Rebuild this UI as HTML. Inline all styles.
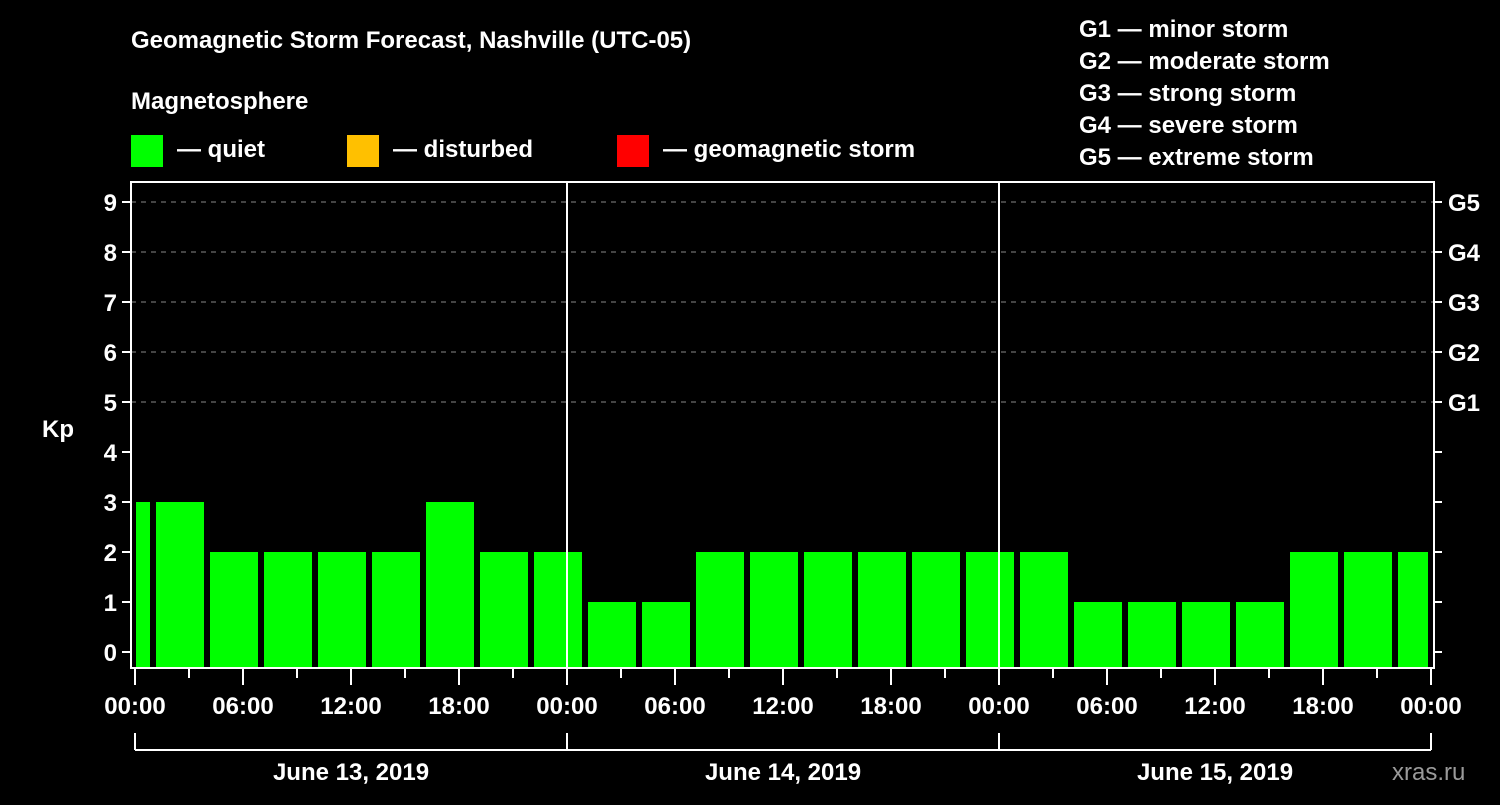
<!DOCTYPE html>
<html><head><meta charset="utf-8"><style>
body{margin:0;background:#000;}
svg text{font-family:"Liberation Sans",Arial,sans-serif;font-weight:bold;fill:#fff;}
</style></head><body>
<svg id="c" width="1500" height="800" xmlns="http://www.w3.org/2000/svg">
<rect width="1500" height="800" fill="#000"/>
<text x="131" y="48" font-size="24">Geomagnetic Storm Forecast, Nashville (UTC-05)</text>
<text x="131" y="109" font-size="24">Magnetosphere</text>
<rect x="131" y="135" width="32" height="32" fill="#00ff00"/>
<text x="177" y="157" font-size="24">— quiet</text>
<rect x="347" y="135" width="32" height="32" fill="#ffc000"/>
<text x="393" y="157" font-size="24">— disturbed</text>
<rect x="617" y="135" width="32" height="32" fill="#ff0000"/>
<text x="663" y="157" font-size="24">— geomagnetic storm</text>
<g font-size="24">
<text x="1079" y="37">G1 — minor storm</text>
<text x="1079" y="69">G2 — moderate storm</text>
<text x="1079" y="101">G3 — strong storm</text>
<text x="1079" y="133">G4 — severe storm</text>
<text x="1079" y="165">G5 — extreme storm</text>
</g>
<text x="42" y="437" font-size="24">Kp</text>
<text x="1392" y="780" font-size="24" fill="#999" style="fill:#9a9a9a;font-weight:normal">xras.ru</text>
<g id="grid"></g><g id="bars"></g><g id="axes"></g>
</svg>
<script>
const values=[3,3,2,2,2,2,3,2,2,1,1,2,2,2,2,2,2,2,1,1,1,1,2,2,2];
const yTicks=[0,1,2,3,4,5,6,7,8,9];
const gLabels=["G1","G2","G3","G4","G5"];
const xLabels=["00:00","06:00","12:00","18:00","00:00","06:00","12:00","18:00","00:00","06:00","12:00","18:00","00:00"];
const dayLabels=["June 13, 2019","June 14, 2019","June 15, 2019"];
const NS="http://www.w3.org/2000/svg";
const X=h=>135+h*18, Y=k=>652-k*50;
const L=131,R=1434,T=182,B=668;
function mk(t,a,p){const e=document.createElementNS(NS,t);for(const k in a)e.setAttribute(k,a[k]);document.getElementById(p).appendChild(e);return e;}
for(let k=5;k<=9;k++){const l=mk('line',{x1:L,x2:R,y1:Y(k),y2:Y(k),stroke:'#888','stroke-dasharray':'5,5'},'grid');

}
values.forEach((v,i)=>{let s=i==0?0:1+(i-1)*3, e=Math.min(72,i==0?1:s+3);
const x0=X(s)+(i==0?1:3), x1=X(e)-3;
const r=mk('rect',{x:x0,y:Y(v),width:x1-x0,height:B-Y(v),fill:v>=5?'#ff0000':(v>=4?'#ffc000':'#00ff00')},'bars');

});
mk('rect',{x:L,y:T,width:R-L,height:B-T,fill:'none',stroke:'#fff','stroke-width':2},'axes');
[1,2].forEach(d=>{const l=mk('line',{x1:X(d*24),x2:X(d*24),y1:T,y2:B,stroke:'#fff','stroke-width':2},'axes');

});
yTicks.forEach(k=>{mk('line',{x1:L-9,x2:L,y1:Y(k),y2:Y(k),stroke:'#fff','stroke-width':2},'axes');
mk('line',{x1:R,x2:R+8,y1:Y(k),y2:Y(k),stroke:'#fff','stroke-width':2},'axes');
const t=mk('text',{x:117,y:Y(k)+9,'font-size':24,'text-anchor':'end'},'axes');t.textContent=k;

});
gLabels.forEach((g,i)=>{const t=mk('text',{x:1448,y:Y(5+i)+9,'font-size':24},'axes');t.textContent=g;

});
for(let h=0;h<=72;h+=3){mk('line',{x1:X(h),x2:X(h),y1:B,y2:h%6==0?685:678,stroke:'#fff','stroke-width':2},'axes');}
xLabels.forEach((s,i)=>{const t=mk('text',{x:X(i*6),y:714,'font-size':24,'text-anchor':'middle'},'axes');t.textContent=s;

});
mk('line',{x1:X(0),x2:X(72),y1:750,y2:750,stroke:'#fff','stroke-width':2},'axes');
[0,1,2,3].forEach(d=>mk('line',{x1:X(d*24),x2:X(d*24),y1:733,y2:750,stroke:'#fff','stroke-width':2},'axes'));
dayLabels.forEach((s,i)=>{const t=mk('text',{x:X(i*24+12),y:780,'font-size':24,'text-anchor':'middle'},'axes');t.textContent=s;

});
</script>
</body></html>
